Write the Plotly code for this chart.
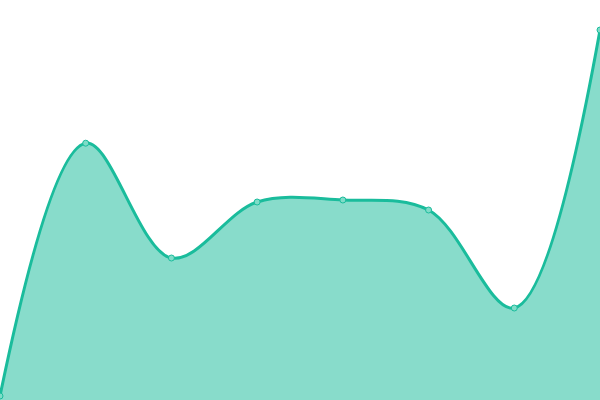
import plotly.graph_objects as go

# Values (y axis 0-100, hidden)
x_vals = [0, 1, 2, 3, 4, 5, 6, 7]
y_vals = [1, 64.2, 35.5, 49.5, 50, 47.5, 23, 92.5]

fig = go.Figure()
fig.add_trace(go.Scatter(
    x=x_vals,
    y=y_vals,
    mode="lines+markers",
    line=dict(shape="spline", smoothing=1, color="#1abc9c", width=3),
    marker=dict(size=6, color="#7fdcc8", line=dict(color="#1abc9c", width=1)),
    fill="tozeroy",
    fillcolor="rgba(26,188,156,0.52)",
    hoverinfo="x+y",
    cliponaxis=False,
))

fig.update_layout(
    width=600,
    height=400,
    margin=dict(l=0, r=0, t=0, b=0),
    paper_bgcolor="white",
    plot_bgcolor="white",
    showlegend=False,
    xaxis=dict(visible=False, range=[0, 7]),
    yaxis=dict(visible=False, range=[0, 100]),
)

# drop the page's default body margin so the chart sits at the window corner
fig.write_html(
    "out.html",
    config={"displayModeBar": False},
    post_script="document.body.style.margin='0';document.body.style.overflow='hidden';",
)
